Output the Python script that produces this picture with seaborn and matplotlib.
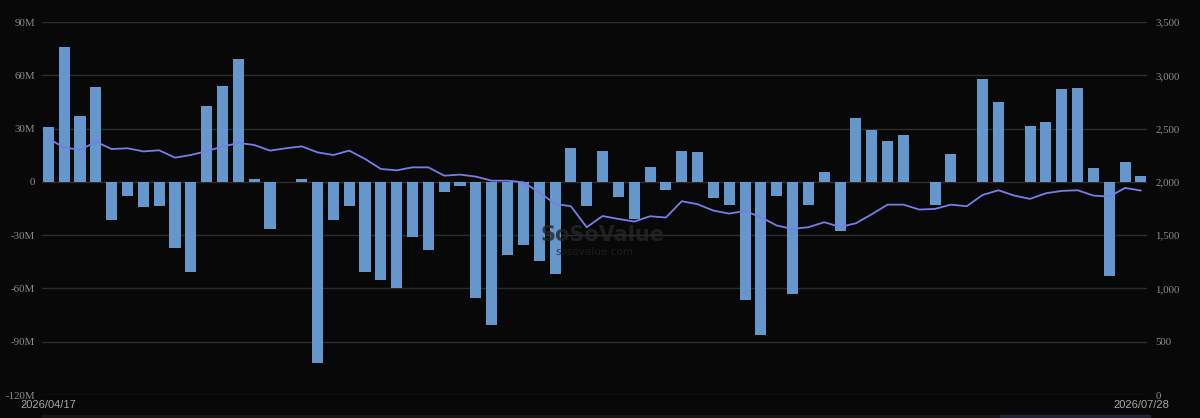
import numpy as np
import pandas as pd
import seaborn as sns
import matplotlib.pyplot as plt

# Daily net flow (M USD), one bar per trading day
flows = [31, 76, 37, 53.3, -21.2, -7.9, -14.1, -13.5, -37.3, -50.8,
         42.8, 54.3, 69.5, 1.7, -26.4, 0, 1.7, -102.2, -21.2, -13.3,
         -50.6, -55.5, -59.6, -31, -38.3, -5.8, -2.1, -65.3, -80.6, -40.9,
         -35.3, -44.4, -51.8, 18.9, -13.3, 17.4, -8.6, -20.8, 8.3, -4.7,
         17.3, 16.9, -9.2, -12.9, -66.6, -86.3, -8.1, -63, -12.9, 5.4,
         -27.8, 36.2, 29.4, 22.9, 26.6, 0, -12.8, 15.9, 0, 57.9,
         44.8, 0, 31.3, 33.9, 52.3, 53.1, 8.1, -52.9, 11.4, 3.2]

# Price (right axis)
price = [2405, 2325, 2300, 2378, 2309, 2316, 2287, 2297, 2228, 2253,
         2290, 2331, 2366, 2347, 2294, 2316, 2334, 2278, 2253, 2294,
         2216, 2122, 2109, 2137, 2137, 2059, 2069, 2050, 2012, 2012,
         1997, 1903, 1794, 1772, 1575, 1680, 1653, 1628, 1678, 1666,
         1819, 1791, 1731, 1703, 1728, 1669, 1591, 1559, 1575, 1622,
         1578, 1612, 1697, 1787, 1787, 1741, 1747, 1787, 1772, 1878,
         1922, 1872, 1841, 1894, 1916, 1922, 1872, 1862, 1944, 1919]

start_label = "2026/04/17"
end_label = "2026/07/28"
left_ticks = [-120, -90, -60, -30, 0, 30, 60, 90]
left_labels = ["-120M", "-90M", "-60M", "-30M", "0", "30M", "60M", "90M"]
right_ticks = [0, 500, 1000, 1500, 2000, 2500, 3000, 3500]
right_labels = ["0", "500", "1,000", "1,500", "2,000", "2,500", "3,000", "3,500"]

df = pd.DataFrame({"day": np.arange(len(flows)), "flow": flows, "price": price})

bg = "#080808"
sns.set_style("dark")
fig = plt.figure(figsize=(12, 4.18), dpi=100, facecolor=bg)
ax = fig.add_axes([0.035, 0.055, 0.9208, 0.892])
ax.set_facecolor(bg)

sns.barplot(data=df, x="day", y="flow", color="#6596cc", width=0.7,
            saturation=1, linewidth=0, ax=ax, zorder=3)
ax.set_xlim(-0.4, len(flows) - 1 + 0.38)
ax.set_ylim(-120, 90)
ax.set_yticks(left_ticks)
ax.set_yticklabels(left_labels, family="Liberation Serif", fontsize=7.8, color="#8c8c8c")
ax.grid(axis="y", color="#2c2c2c", linewidth=1, zorder=0)
ax.grid(axis="x", visible=False)
ax.tick_params(axis="y", length=0, pad=5)
ax.set_xticks([0, len(flows) - 1])
ax.set_xticklabels([start_label, end_label], fontsize=8, color="#a8a8a8",
                   family="Liberation Sans")
ax.tick_params(axis="x", length=0, pad=3.5)
ax.set_xlabel("")
ax.set_ylabel("")
for s in ax.spines.values():
    s.set_visible(False)

ax2 = ax.twinx()
sns.lineplot(data=df, x="day", y="price", color="#787de6", linewidth=1.3, ax=ax2, zorder=4)
ax2.set_ylim(0, 3500)
ax2.set_yticks(right_ticks)
ax2.set_yticklabels(right_labels, family="Liberation Serif", fontsize=7.8, color="#8c8c8c")
ax2.tick_params(axis="y", length=0, pad=6)
ax2.grid(False)
ax2.set_ylabel("")
for s in ax2.spines.values():
    s.set_visible(False)

# watermark
fig.text(0.502, 0.438, "SoSoValue", fontsize=15, fontweight="bold", color="#262626",
         ha="center", va="center", family="DejaVu Sans", alpha=0.8)
fig.text(0.495, 0.398, "sosovalue.com", fontsize=7.5, color="#222222",
         ha="center", va="center", family="DejaVu Sans", alpha=0.8)

# slider strip at the bottom
fig.patches.append(plt.Rectangle((0.035, 0.0), 0.921, 0.008, transform=fig.transFigure,
                                 color="#161616", zorder=0))
fig.patches.append(plt.Rectangle((0.833, 0.0), 0.125, 0.008, transform=fig.transFigure,
                                 color="#1d2433", zorder=1))

fig.savefig("out.png", dpi=100, facecolor=bg)
